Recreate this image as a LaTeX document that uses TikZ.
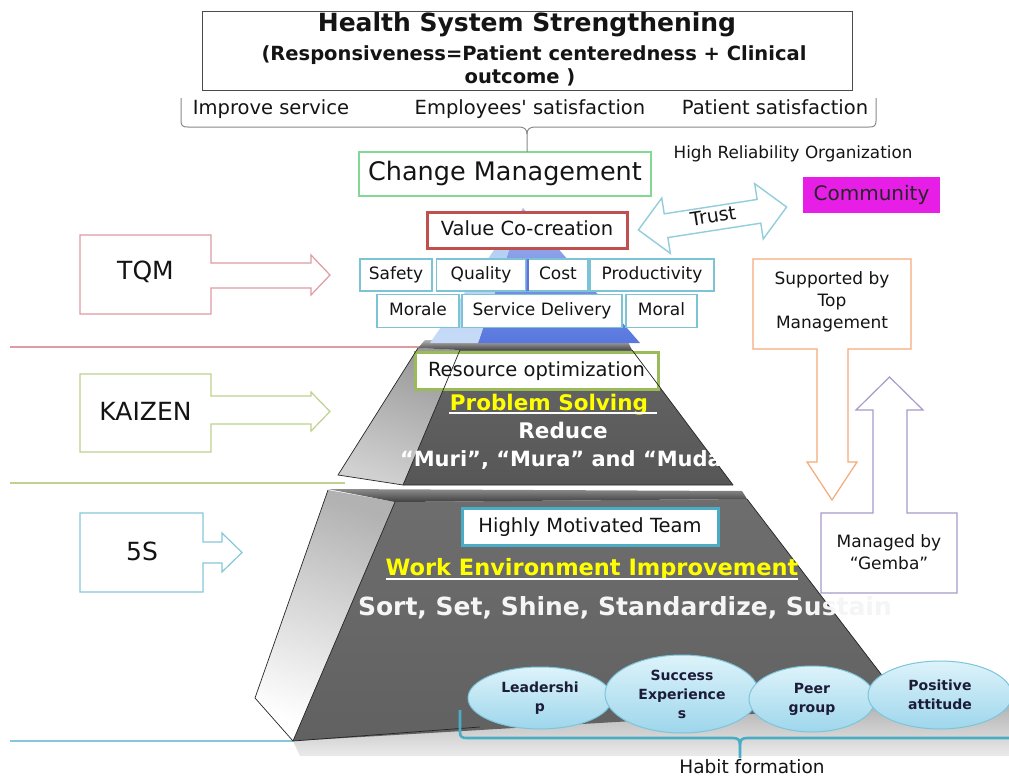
\documentclass[tikz,border=0pt]{standalone}
\usepackage{fontspec}
\setmainfont{DejaVu Sans}
\usetikzlibrary{calc,shapes.geometric}
\newcommand\fsz[2]{\fontsize{#1pt}{#2pt}\selectfont}
% straight apostrophe, kept out of the quote mapping
\newcommand\sq{\XeTeXglyph\XeTeXcharglyph"27\relax}
\definecolor{ink}{HTML}{141414}
\definecolor{tqmred}{HTML}{E09AA3}
\definecolor{kaigreen}{HTML}{BCD28E}
\definecolor{fivesblue}{HTML}{86C8DA}
\definecolor{cmgreen}{HTML}{84D894}
\definecolor{vcred}{HTML}{C0504D}
\definecolor{cellblue}{HTML}{7DC3D6}
\definecolor{trustblue}{HTML}{92CDDC}
\definecolor{magent}{HTML}{E61EE6}
\definecolor{orng}{HTML}{F4AA78}
\definecolor{purp}{HTML}{A79BC8}
\definecolor{rogreen}{HTML}{9BBB59}
\definecolor{hmblue}{HTML}{4BACC6}
\definecolor{braceg}{HTML}{8A8A8A}
\definecolor{yel}{HTML}{FFFF00}
\definecolor{elltop}{HTML}{DDF3FA}
\definecolor{ellbot}{HTML}{9ED6EC}
\definecolor{elledge}{HTML}{7CC5DB}
\definecolor{ellink}{HTML}{1C1C38}
\definecolor{blueL}{HTML}{AECBF3}
\definecolor{blueF}{HTML}{5877DE}
\begin{document}
\begin{tikzpicture}[x=1pt,y=-1pt,
  every node/.style={inner sep=0pt,outer sep=0pt,text=ink},
  txt/.style={anchor=base},
  cell/.style={draw=cellblue,line width=1.1,fill=white,text height=12.5,text depth=3.5,font=\fsz{17}{20}},
  boxed/.style={fill=white,text height=14,text depth=4,font=\fsz{19.5}{23}},
  side/.style={fill=white,line width=1.2},
  edge/.style={black!85,line width=0.7},
  oval/.style={ellipse,draw=elledge,line width=1,top color=elltop,bottom color=ellbot,
    align=center,text=ellink,font=\fsz{14}{19}\bfseries},
  pyrtext/.style={anchor=base,font=\bfseries}]
\useasboundingbox (0,0) rectangle (1009,776);
\fill[white] (0,0) rectangle (1009,776);

% level separators
\draw[tqmred,line width=1.2] (10,347) -- (455,347);
\draw[kaigreen,line width=1.2] (10,483) -- (345,483);
\draw[fivesblue,line width=1.2] (10,741) -- (300,741);

% shadow on the floor
\shade[top color=black!32,bottom color=black!8] (293,741) -- (905,703) -- (1009,700) -- (1009,756) -- (300,756) -- cycle;

% ---- bottom tier
\shade[top color=black!30,bottom color=white,shading angle=-20]
  (328,490) -- (255,698) -- (293,741) -- (395,502) -- cycle;
\shade[top color=black!57,bottom color=black!62] (395,502) -- (747,499) -- (905,705) -- (293,741) -- cycle;
\shade[top color=black!45,bottom color=black!75] (328,489) -- (742,491) -- (747,499) -- (395,502) -- cycle;
\draw[edge] (328,490) -- (255,698) -- (293,741) -- (480,727);
\draw[edge] (395,502) -- (293,741);
\draw[edge] (747,499) -- (900,699);

% ---- middle tier
\shade[top color=black!40,bottom color=black!18,shading angle=-20]
  (418,348) -- (338,475) -- (403,485) -- (460,350) -- cycle;
\shade[top color=black!60,bottom color=black!66] (460,350) -- (632,350) -- (733,485) -- (403,485) -- cycle;
\shade[top color=black!30,bottom color=black!72] (425,340) -- (627,340) -- (632,350) -- (460,350) -- (418,348) -- cycle;

% ---- top (blue) tier
\shade[top color=blueF!55!white,bottom color=blueF] (523,208) -- (640,343) -- (478,343) -- cycle;
\shade[top color=blueL,bottom color=blueL!70!white] (523,208) -- (478,343) -- (430,343) -- cycle;

% ---- title
\draw[black!70,line width=1] (202,12) rectangle (852,90);
\node[txt,font=\fsz{25}{30}\bfseries] (hss) at (527,32) {Health System Strengthening};
\node[txt,font=\fsz{19.5}{23}\bfseries] (resp1) at (534,60) {(Responsiveness=Patient centeredness + Clinical};
\node[txt,font=\fsz{19.5}{23}\bfseries] (resp2) at (520,84) {outcome )};

\node[txt,font=\fsz{19.5}{23}] (imp) at (271,114) {Improve service};
\node[txt,font=\fsz{19.5}{23}] (emp) at (530,114) {Employees\sq{} satisfaction};
\node[txt,font=\fsz{19.5}{23}] (pat) at (775,114) {Patient satisfaction};

% ---- change management
\node[draw=cmgreen,line width=1.2,fill=white,minimum width=292,minimum height=44,
  text height=18,text depth=5,font=\fsz{25.5}{30}] (cm) at (505,174) {Change Management};

% brace over the three outcomes
\coordinate (bl) at (181,98);
\coordinate (br) at (876,98);
\draw[braceg,line width=1] (bl) -- (181,121) .. controls (181,126) and (183,127) .. (188,127)
  -- (519,127) .. controls (524,127) and (527,129) .. (527,134) -- (527,152);
\draw[braceg,line width=1] (br) -- (876,121) .. controls (876,126) and (874,127) .. (869,127)
  -- (535,127) .. controls (530,127) and (527,129) .. (527,134);

\node[txt,font=\fsz{16.8}{20}] (hro) at (793,158) {High Reliability Organization};
\node[fill=magent,minimum width=137,minimum height=36,text height=14,text depth=4,
  font=\fsz{20}{24},text=black!85] (com) at (871.5,195) {Community};

% ---- value co-creation and trust
\node[boxed,draw=vcred,line width=3,minimum width=200,minimum height=36] (vc) at (527,230) {Value Co-creation};
\begin{scope}[shift={(712.5,218.5)},rotate=8.8]
  \draw[trustblue,line width=1.4,fill=white] (-75,0) -- (-47,-28) -- (-47,-12) -- (47,-12) -- (47,-28)
    -- (75,0) -- (47,28) -- (47,12) -- (-47,12) -- (-47,28) -- cycle;
\end{scope}
\node[rotate=8.8,font=\fsz{19}{22},anchor=center] (trust) at (713,216) {Trust};

% ---- quality cells
\node[cell,minimum width=72,minimum height=32] (safety) at (396,275) {Safety};
\node[cell,minimum width=89,minimum height=32] (quality) at (481,275) {Quality};
\node[cell,minimum width=60,minimum height=32] (cost) at (558,275) {Cost};
\node[cell,minimum width=124,minimum height=32] (prod) at (652,275) {Productivity};
\node[cell,minimum width=82,minimum height=33] (morale) at (418,311) {Morale};
\node[cell,minimum width=160,minimum height=33] (sd) at (542,311) {Service Delivery};
\node[cell,minimum width=71,minimum height=33] (moral) at (661.5,311) {Moral};
\draw[blueF,line width=1.6] (cost.north west) -- (cost.south west);

% ---- middle tier labels
\node[boxed,draw=rogreen,line width=3,minimum width=243,minimum height=37] (ro) at (536.5,371) {Resource optimization};
\draw[edge] (418,348) -- (338,475) -- (403,485) -- (733,485);
\draw[edge] (460,350) -- (403,485);
\draw[edge] (632,350) -- (733,485);
\node[pyrtext,text=yel,font=\fsz{21.5}{25}\bfseries] (ps) at (549,410) {Problem Solving};
\draw[white,line width=1.8] ($(ps.base west)+(-1,3)$) -- ($(ps.base east)+(9,3)$);
\node[pyrtext,text=white,font=\fsz{21.5}{25}\bfseries] (red) at (563,438) {Reduce};
\node[pyrtext,anchor=base west,text=white,font=\fsz{21}{25}\bfseries] (muri) at (400,466) {“Muri”, “Mura” and “Muda”};

% ---- bottom tier labels
\node[boxed,draw=hmblue,line width=3,minimum width=256,minimum height=37] (hmt) at (590,527) {Highly Motivated Team};
\node[pyrtext,text=yel,font=\fsz{22.5}{26}\bfseries] (wei) at (592,575) {Work Environment Improvement};
\draw[white,line width=1.8] ($(wei.base west)+(0,4)$) -- ($(wei.base east)+(0,4)$);
\node[pyrtext,anchor=base west,text=black!4,font=\fsz{25}{30}\bfseries] (fives) at (358,615) {Sort, Set, Shine, Standardize, Sustain};

% ---- habit ovals
\node[oval,minimum width=144,minimum height=62] (lead) at (540,698) {Leadershi\\p};
\node[oval,minimum width=154,minimum height=78] (succ) at (682,694) {Success\\Experience\\s};
\node[oval,minimum width=126,minimum height=66] (peer) at (812,699) {Peer\\group};
\node[oval,minimum width=144,minimum height=68] (posi) at (940,695) {Positive\\attitude};

% brace under the ovals
\coordinate (hl) at (460,710);
\coordinate (hr) at (1012,738);
\draw[hmblue,line width=2.6] (hl) -- (460,732) .. controls (460,737) and (462,738) .. (467,738)
  -- (733,738) .. controls (738,738) and (740,740) .. (740,745) -- (740,758);
\draw[hmblue,line width=2.6] (hr) -- (747,738) .. controls (742,738) and (740,740) .. (740,745);
\node[txt,font=\fsz{18.5}{22}] (habit) at (752,773) {Habit formation};

% ---- method callouts on the left
\draw[tqmred,side] (80,235) -- (211,235) -- (211,263) -- (311,263) -- (311,255) -- (330,275)
  -- (311,295) -- (311,288) -- (211,288) -- (211,314) -- (80,314) -- cycle;
\node[font=\fsz{25}{30}] (tqm) at (145.5,272) {TQM};
\draw[kaigreen,side] (80,374) -- (211,374) -- (211,396) -- (311,396) -- (311,392) -- (330,411.5)
  -- (311,431) -- (311,424) -- (211,424) -- (211,452) -- (80,452) -- cycle;
\node[font=\fsz{25}{30}] (kaizen) at (145.5,411) {KAIZEN};
\draw[fivesblue,side] (80,513) -- (203,513) -- (203,542) -- (222,542) -- (222,533) -- (242,552.5)
  -- (222,572) -- (222,563) -- (203,563) -- (203,592) -- (80,592) -- cycle;
\node[font=\fsz{25}{30}] (fs) at (142,551) {5S};

% ---- management arrows on the right
\draw[orng,side] (753,259) -- (911,259) -- (911,349) -- (848,349) -- (848,462) -- (857,462)
  -- (832,500) -- (807,462) -- (817,462) -- (817,349) -- (753,349) -- cycle;
\node[align=center,font=\fsz{17}{22}] (top) at (832,302) {Supported by\\Top\\Management};
\draw[purp,side] (821,513) -- (873,513) -- (873,410) -- (856,410) -- (889.5,377) -- (923,410)
  -- (907,410) -- (907,513) -- (957,513) -- (957,593) -- (821,593) -- cycle;
\node[align=center,font=\fsz{17}{22}] (gemba) at (889,552) {Managed by\\“Gemba”};
\end{tikzpicture}
\end{document}
